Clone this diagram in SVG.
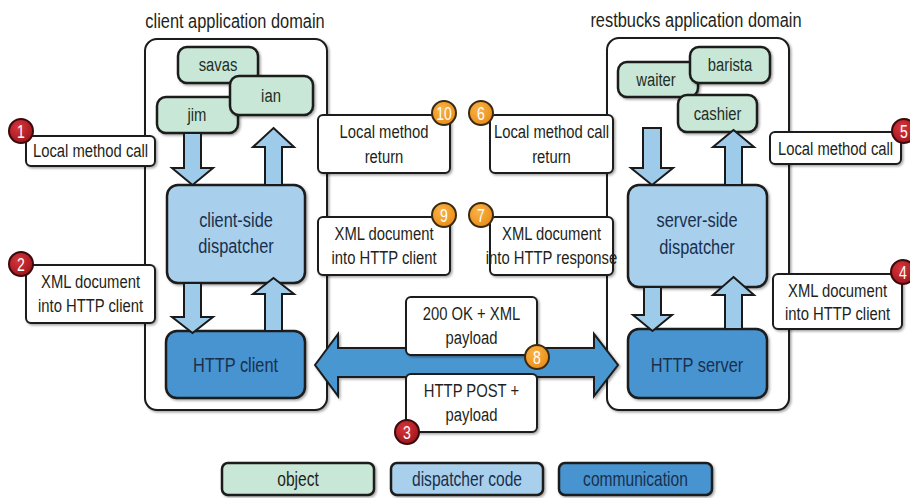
<svg xmlns="http://www.w3.org/2000/svg" width="910" height="498" viewBox="0 0 910 498">
<defs>
<filter id="sh" x="-10%" y="-10%" width="130%" height="140%">
<feDropShadow dx="1.5" dy="1.5" stdDeviation="1.2" flood-color="#000" flood-opacity="0.35"/>
</filter>
<radialGradient id="gr" cx="0.4" cy="0.35" r="0.7">
<stop offset="0" stop-color="#d8363c"/><stop offset="1" stop-color="#9c141b"/>
</radialGradient>
<radialGradient id="go" cx="0.4" cy="0.35" r="0.7">
<stop offset="0" stop-color="#f9b347"/><stop offset="1" stop-color="#e98c16"/>
</radialGradient>
</defs>
<style>
text{font-family:"Liberation Sans",Arial,sans-serif;text-anchor:middle;fill:#231f20}
.dom{fill:#fff;stroke:#1a1a1a;stroke-width:2}
.obj{fill:#c9e7d6;stroke:#1a1a1a;stroke-width:2.5}
.dsp{fill:#a8cfeb;stroke:#1a1a1a;stroke-width:2.5}
.com{fill:#4694d0;stroke:#1a1a1a;stroke-width:2.5}
.lbl{fill:#fff;stroke:#1a1a1a;stroke-width:2}
.arr{fill:#9fcbea;stroke:#1a1a1a;stroke-width:2;stroke-linejoin:miter}
.big{fill:#4a97d1;stroke:#1a1a1a;stroke-width:2}
.t18{font-size:19px}
.t20{font-size:21px}
.t19{font-size:20px}
.bl{fill:#1a2f4d}
.gn{fill:#1f2e28}
.br{fill:url(#gr);stroke:#3a0a0c;stroke-width:2}
.bo{fill:url(#go);stroke:#3b2a10;stroke-width:2}
.bn{font-size:18px;fill:#fff}
</style>

<g id="client-domain">
<rect class="dom" x="145" y="39" width="182" height="371" rx="12" filter="url(#sh)"/>
<text class="t20" transform="matrix(0.78 0 0 1 235 28)">client application domain</text>
</g>
<g id="restbucks-domain">
<rect class="dom" x="607" y="38" width="182" height="372" rx="12" filter="url(#sh)"/>
<text class="t20" transform="matrix(0.78 0 0 1 696 27)">restbucks application domain</text>
</g>

<g id="savas"><rect class="obj" x="178" y="47" width="80" height="36" rx="9" filter="url(#sh)"/><text class="t18 gn" transform="matrix(0.78 0 0 1 218 71)">savas</text></g>
<g id="jim"><rect class="obj" x="157" y="97" width="81" height="36" rx="9" filter="url(#sh)"/><text class="t18 gn" transform="matrix(0.78 0 0 1 197 121)">jim</text></g>
<g id="ian"><rect class="obj" x="230" y="76" width="83" height="39" rx="9" filter="url(#sh)"/><text class="t18 gn" transform="matrix(0.78 0 0 1 271 102)">ian</text></g>

<g id="waiter"><rect class="obj" x="618" y="62" width="80" height="35" rx="9" filter="url(#sh)"/><text class="t18 gn" transform="matrix(0.78 0 0 1 656 86)">waiter</text></g>
<g id="barista"><rect class="obj" x="690" y="47" width="80" height="36" rx="9" filter="url(#sh)"/><text class="t18 gn" transform="matrix(0.78 0 0 1 730 71)">barista</text></g>
<g id="cashier"><rect class="obj" x="678" y="95" width="79" height="37" rx="9" filter="url(#sh)"/><text class="t18 gn" transform="matrix(0.78 0 0 1 717.5 120)">cashier</text></g>

<g id="client-dispatcher"><rect class="dsp" x="167" y="185" width="138" height="98" rx="11" filter="url(#sh)"/>
<text class="t20 bl" transform="matrix(0.78 0 0 1 236 227)">client-side<tspan x="0" dy="26">dispatcher</tspan></text></g>
<g id="server-dispatcher"><rect class="dsp" x="628" y="185" width="139" height="102" rx="11" filter="url(#sh)"/>
<text class="t20 bl" transform="matrix(0.78 0 0 1 697 227)">server-side<tspan x="0" dy="27">dispatcher</tspan></text></g>

<g id="http-client"><rect class="com" x="166" y="331" width="139" height="67" rx="11" filter="url(#sh)"/>
<text class="t20 bl" transform="matrix(0.78 0 0 1 235.5 372)">HTTP client</text></g>
<g id="http-server"><rect class="com" x="628" y="329" width="139" height="69" rx="11" filter="url(#sh)"/>
<text class="t20 bl" transform="matrix(0.78 0 0 1 697 372)">HTTP server</text></g>

<g id="connectors">
<polygon class="arr" points="184,133 201,133 201,168 213,168 192.5,185 172,168 184,168"/>
<polygon class="arr" points="273.5,128 294,147 282,147 282,185 265,185 265,147 253,147"/>
<polygon class="arr" points="184,283 201,283 201,317 213,317 192.5,333 172,317 184,317"/>
<polygon class="arr" points="273.5,278 294,294 282,294 282,331 265,331 265,294 253,294"/>
<polygon class="arr" points="643,128 661,128 661,168 673,168 652,185 631,168 643,168"/>
<polygon class="arr" points="733.5,130 754,147 742,147 742,185 725,185 725,147 713,147"/>
<polygon class="arr" points="644,287 661,287 661,315 672,315 652.5,331 633,315 644,315"/>
<polygon class="arr" points="733.5,277 754,295 742,295 742,329 725,329 725,295 713,295"/>
<polygon class="big" points="315,365 338,334 338,348 594,348 594,334 618,365 594,396 594,377 338,377 338,396" filter="url(#sh)"/>
</g>

<g id="label-1"><rect class="lbl" x="26" y="136" width="129" height="30" rx="5" filter="url(#sh)"/>
<text class="t18" transform="matrix(0.78 0 0 1 90.5 157)">Local method call</text>
<circle class="br" cx="21" cy="131" r="12"/><text class="bn" transform="matrix(0.78 0 0 1 21 137.5)">1</text></g>

<g id="label-2"><rect class="lbl" x="26" y="265" width="129" height="58" rx="5" filter="url(#sh)"/>
<text class="t18" transform="matrix(0.78 0 0 1 90.5 288)">XML document<tspan x="0" dy="24">into HTTP client</tspan></text>
<circle class="br" cx="21" cy="264" r="12"/><text class="bn" transform="matrix(0.78 0 0 1 21 270.5)">2</text></g>

<g id="label-10"><rect class="lbl" x="318" y="115" width="132" height="58" rx="5" filter="url(#sh)"/>
<text class="t18" transform="matrix(0.78 0 0 1 384 138)">Local method<tspan x="0" dy="25">return</tspan></text>
<circle class="bo" cx="444" cy="113" r="12"/><text class="bn" transform="matrix(0.78 0 0 1 444 119.5)">10</text></g>

<g id="label-6"><rect class="lbl" x="490" y="115" width="123" height="58" rx="5" filter="url(#sh)"/>
<text class="t18" transform="matrix(0.78 0 0 1 551.5 138)">Local method call<tspan x="0" dy="25">return</tspan></text>
<circle class="bo" cx="481" cy="113" r="12"/><text class="bn" transform="matrix(0.78 0 0 1 481 119.5)">6</text></g>

<g id="label-9"><rect class="lbl" x="318" y="217" width="132" height="58" rx="5" filter="url(#sh)"/>
<text class="t18" transform="matrix(0.78 0 0 1 384 240)">XML document<tspan x="0" dy="24">into HTTP client</tspan></text>
<circle class="bo" cx="444" cy="215" r="12"/><text class="bn" transform="matrix(0.78 0 0 1 444 221.5)">9</text></g>

<g id="label-7"><rect class="lbl" x="490" y="217" width="123" height="58" rx="5" filter="url(#sh)"/>
<text class="t18" transform="matrix(0.78 0 0 1 551.5 240)">XML document<tspan x="0" dy="24">into HTTP response</tspan></text>
<circle class="bo" cx="481" cy="215" r="12"/><text class="bn" transform="matrix(0.78 0 0 1 481 221.5)">7</text></g>

<g id="label-8"><rect class="lbl" x="406" y="297" width="131" height="58" rx="5" filter="url(#sh)"/>
<text class="t18" transform="matrix(0.78 0 0 1 471.5 320)">200 OK + XML<tspan x="0" dy="24">payload</tspan></text>
<circle class="bo" cx="537" cy="357" r="12"/><text class="bn" transform="matrix(0.78 0 0 1 537 363.5)">8</text></g>

<g id="label-3"><rect class="lbl" x="406" y="374" width="131" height="58" rx="5" filter="url(#sh)"/>
<text class="t18" transform="matrix(0.78 0 0 1 471.5 397)">HTTP POST +<tspan x="0" dy="24">payload</tspan></text>
<circle class="br" cx="407" cy="432" r="12"/><text class="bn" transform="matrix(0.78 0 0 1 407 438.5)">3</text></g>

<g id="label-5"><rect class="lbl" x="770" y="132" width="131" height="32" rx="5" filter="url(#sh)"/>
<text class="t18" transform="matrix(0.78 0 0 1 835.5 155)">Local method call</text>
<circle class="br" cx="904" cy="131" r="12"/><text class="bn" transform="matrix(0.78 0 0 1 904 137.5)">5</text></g>

<g id="label-4"><rect class="lbl" x="773" y="274" width="129" height="55" rx="5" filter="url(#sh)"/>
<text class="t18" transform="matrix(0.78 0 0 1 837.5 297)">XML document<tspan x="0" dy="23">into HTTP client</tspan></text>
<circle class="br" cx="903" cy="272" r="12"/><text class="bn" transform="matrix(0.78 0 0 1 903 278.5)">4</text></g>

<g id="legend">
<g id="legend-object"><rect class="obj" x="222" y="463" width="152" height="32" rx="6" filter="url(#sh)"/><text class="t19" transform="matrix(0.78 0 0 1 298 486)">object</text></g>
<g id="legend-dispatcher"><rect class="dsp" x="391" y="463" width="152" height="32" rx="6" filter="url(#sh)"/><text class="t19 bl" transform="matrix(0.78 0 0 1 467 486)">dispatcher code</text></g>
<g id="legend-communication"><rect class="com" x="559" y="463" width="153" height="32" rx="6" filter="url(#sh)"/><text class="t19 bl" transform="matrix(0.78 0 0 1 635.5 486)">communication</text></g>
</g>
</svg>
